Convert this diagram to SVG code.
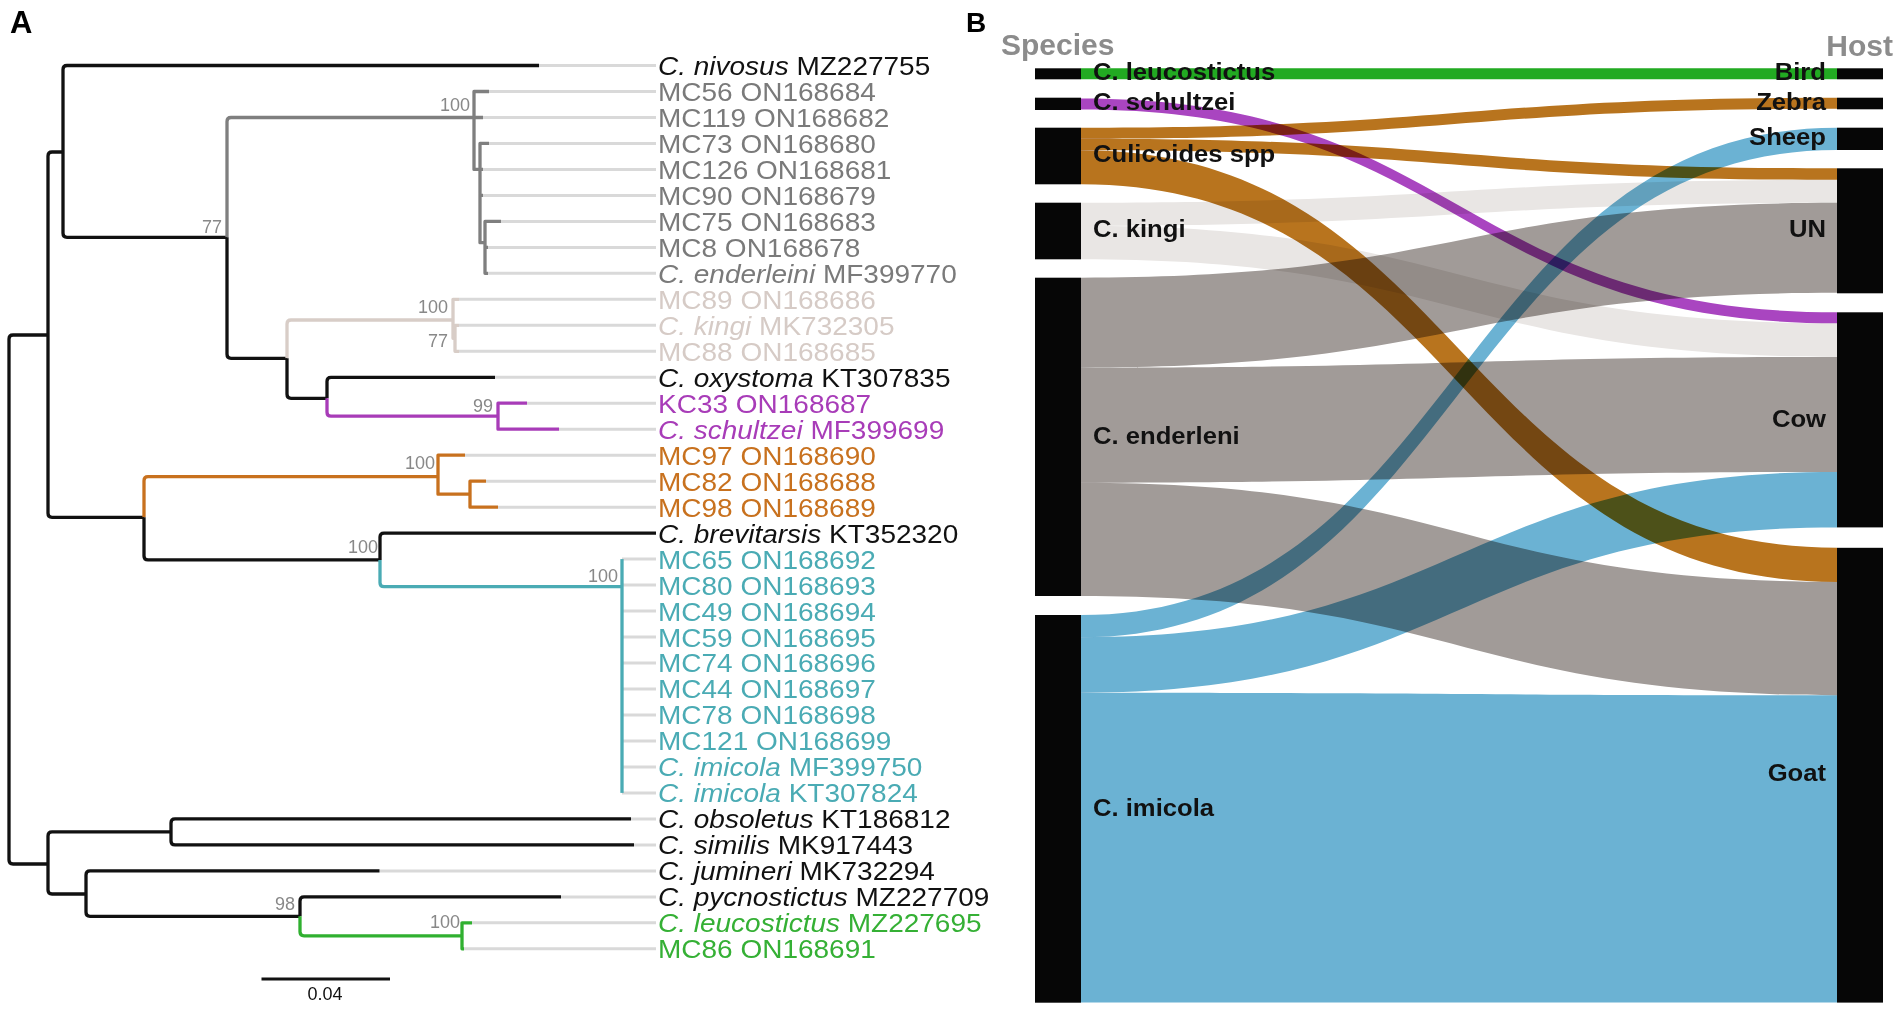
<svg xmlns="http://www.w3.org/2000/svg" width="1902" height="1013" viewBox="0 0 1902 1013">
<style>
text{font-family:"Liberation Sans",Arial,sans-serif}
.pl{font-size:31px;font-weight:bold;fill:#000}
.lf{font-size:25.5px}
.it{font-style:italic}
.bs{font-size:18px;fill:#888;text-anchor:end}
.br{fill:none;stroke-width:3.3;stroke-linejoin:round;stroke-linecap:butt}
.ld{fill:none;stroke:#d9d9d9;stroke-width:3}
.k{stroke:#111}.g{stroke:#7f7f7f}.t{stroke:#d8cdc7}.p{stroke:#a83cb8}.o{stroke:#c8711e}.c{stroke:#4aabb4}.gr{stroke:#30b030}
.fk{fill:#111}.fg{fill:#7a7a7a}.ft{fill:#d6cbc6}.fp{fill:#a83cb8}.fo{fill:#c8711e}.fc{fill:#4aabb4}.fgr{fill:#35b035}
.flow{mix-blend-mode:multiply}
.bar{fill:#060606}
.sl{font-size:23.3px;font-weight:bold;fill:#111}
.hd{font-size:30px;font-weight:bold;fill:#8c8c8c}
</style>
<rect width="1902" height="1013" fill="#fff"/>

<!-- Panel A -->
<text class="pl" x="10" y="33">A</text>

<g id="leaders">
<path class="ld" d="M539,65.5H656M489,91.5H656M483,117.5H656M489,143.4H656M483,169.4H656M483,195.4H656M501,221.4H656M488,247.4H656M488,273.3H656M459,299.3H656M459,325.3H656M459,351.3H656M495,377.3H656M527,403.2H656M559,429.2H656M465,455.2H656M486,481.2H656M498,507.2H656M622,559.1H656M622,585.1H656M622,611.1H656M622,637.1H656M622,663H656M622,689H656M622,715H656M622,741H656M622,767H656M622,792.9H656M631,818.9H656M634,844.9H656M379.5,870.9H656M561,896.9H656M472,922.8H656M464,948.8H656"/>
</g>

<g id="tree-connectors">
<path class="br k" d="M9,600V339Q9,335 13,335H48M9,600V860Q9,864 13,864H48"/>
<path class="br k" d="M48,335V156Q48,152 52,152H63M48,335V513.3Q48,517.3 52,517.3H144"/>
<path class="br k" d="M63,152V69.5Q63,65.5 67,65.5H539M63,152V233.3Q63,237.3 67,237.3H227"/>
<path class="br g" d="M227,237.3V121.5Q227,117.5 231,117.5H474"/>
<path class="br k" d="M227,237.3V354.3Q227,358.3 231,358.3H287"/>
<path class="br g" d="M474,117.5V91.5H489M474,117.5H483M474,117.5V169.4H480"/>
<path class="br g" d="M480,169.4V143.4H489M480,169.4H483M480,169.4V242.7H485M480,195.4H483"/>
<path class="br g" d="M485,242.7V221.4H501M485,242.7V273.3H488M485,247.4H488"/>
<path class="br t" d="M287,358.3V324Q287,320 291,320H453"/>
<path class="br k" d="M287,358.3V394.3Q287,398.3 291,398.3H327"/>
<path class="br t" d="M453,320V299.3H459M453,320V338.3H455"/>
<path class="br t" d="M455,338.3V325.3H459M455,338.3V351.3H459"/>
<path class="br k" d="M327,398.3V381.3Q327,377.3 331,377.3H495"/>
<path class="br p" d="M327,398.3V412.2Q327,416.2 331,416.2H498"/>
<path class="br p" d="M498,416.2V403.2H527M498,416.2V429.2H559"/>
<path class="br o" d="M144,517.3V480.7Q144,476.7 148,476.7H438"/>
<path class="br k" d="M144,517.3V555.9Q144,559.9 148,559.9H380"/>
<path class="br o" d="M438,476.7V455.2H465M438,476.7V494.2H470"/>
<path class="br o" d="M470,494.2V481.2H486M470,494.2V507.2H498"/>
<path class="br k" d="M380,559.9V537.1Q380,533.1 384,533.1H656"/>
<path class="br c" d="M380,559.9V582.7Q380,586.7 384,586.7H622"/>
<path class="br c" d="M622,559.1V792.9"/>
<path class="br k" d="M48,864V835.9Q48,831.9 52,831.9H171M48,864V890Q48,894 52,894H86"/>
<path class="br k" d="M171,831.9V822.9Q171,818.9 175,818.9H631M171,831.9V840.9Q171,844.9 175,844.9H634"/>
<path class="br k" d="M86,894V874.9Q86,870.9 90,870.9H379.5M86,894V912.3Q86,916.3 90,916.3H300"/>
<path class="br k" d="M300,916.3V900.9Q300,896.9 304,896.9H561"/>
<path class="br gr" d="M300,916.3V931.8Q300,935.8 304,935.8H462"/>
<path class="br gr" d="M462,935.8V922.8H472M462,935.8V948.8H464"/>
</g>

<g id="bootstrap">
<text class="bs" x="470" y="111">100</text>
<text class="bs" x="222" y="233">77</text>
<text class="bs" x="448" y="313">100</text>
<text class="bs" x="448" y="346.5">77</text>
<text class="bs" x="493" y="411.5">99</text>
<text class="bs" x="435" y="468.5">100</text>
<text class="bs" x="378" y="553">100</text>
<text class="bs" x="618" y="581.5">100</text>
<text class="bs" x="295" y="910">98</text>
<text class="bs" x="460" y="928">100</text>
</g>

<g id="leaf-labels" class="lf" transform="translate(658 0) scale(1.098 1)">
<g id="leaf-nivosus"><text class="fk" x="0" y="75"><tspan class="it">C. nivosus</tspan> MZ227755</text></g>
<g id="leaf-MC56"><text class="fg" x="0" y="101">MC56 ON168684</text></g>
<g id="leaf-MC119"><text class="fg" x="0" y="127">MC119 ON168682</text></g>
<g id="leaf-MC73"><text class="fg" x="0" y="152.9">MC73 ON168680</text></g>
<g id="leaf-MC126"><text class="fg" x="0" y="178.9">MC126 ON168681</text></g>
<g id="leaf-MC90"><text class="fg" x="0" y="204.9">MC90 ON168679</text></g>
<g id="leaf-MC75"><text class="fg" x="0" y="230.9">MC75 ON168683</text></g>
<g id="leaf-MC8"><text class="fg" x="0" y="256.9">MC8 ON168678</text></g>
<g id="leaf-enderleini"><text class="fg" x="0" y="282.8"><tspan class="it">C. enderleini</tspan> MF399770</text></g>
<g id="leaf-MC89"><text class="ft" x="0" y="308.8">MC89 ON168686</text></g>
<g id="leaf-kingi"><text class="ft" x="0" y="334.8"><tspan class="it">C. kingi</tspan> MK732305</text></g>
<g id="leaf-MC88"><text class="ft" x="0" y="360.8">MC88 ON168685</text></g>
<g id="leaf-oxystoma"><text class="fk" x="0" y="386.8"><tspan class="it">C. oxystoma</tspan> KT307835</text></g>
<g id="leaf-KC33"><text class="fp" x="0" y="412.7">KC33 ON168687</text></g>
<g id="leaf-schultzei"><text class="fp" x="0" y="438.7"><tspan class="it">C. schultzei</tspan> MF399699</text></g>
<g id="leaf-MC97"><text class="fo" x="0" y="464.7">MC97 ON168690</text></g>
<g id="leaf-MC82"><text class="fo" x="0" y="490.7">MC82 ON168688</text></g>
<g id="leaf-MC98"><text class="fo" x="0" y="516.7">MC98 ON168689</text></g>
<g id="leaf-brevitarsis"><text class="fk" x="0" y="542.6"><tspan class="it">C. brevitarsis</tspan> KT352320</text></g>
<g id="leaf-MC65"><text class="fc" x="0" y="568.6">MC65 ON168692</text></g>
<g id="leaf-MC80"><text class="fc" x="0" y="594.6">MC80 ON168693</text></g>
<g id="leaf-MC49"><text class="fc" x="0" y="620.6">MC49 ON168694</text></g>
<g id="leaf-MC59"><text class="fc" x="0" y="646.6">MC59 ON168695</text></g>
<g id="leaf-MC74"><text class="fc" x="0" y="672.5">MC74 ON168696</text></g>
<g id="leaf-MC44"><text class="fc" x="0" y="698.5">MC44 ON168697</text></g>
<g id="leaf-MC78"><text class="fc" x="0" y="724.5">MC78 ON168698</text></g>
<g id="leaf-MC121"><text class="fc" x="0" y="750.5">MC121 ON168699</text></g>
<g id="leaf-imicola1"><text class="fc" x="0" y="776.5"><tspan class="it">C. imicola</tspan> MF399750</text></g>
<g id="leaf-imicola2"><text class="fc" x="0" y="802.4"><tspan class="it">C. imicola</tspan> KT307824</text></g>
<g id="leaf-obsoletus"><text class="fk" x="0" y="828.4"><tspan class="it">C. obsoletus</tspan> KT186812</text></g>
<g id="leaf-similis"><text class="fk" x="0" y="854.4"><tspan class="it">C. similis</tspan> MK917443</text></g>
<g id="leaf-jumineri"><text class="fk" x="0" y="880.4"><tspan class="it">C. jumineri</tspan> MK732294</text></g>
<g id="leaf-pycnostictus"><text class="fk" x="0" y="906.4"><tspan class="it">C. pycnostictus</tspan> MZ227709</text></g>
<g id="leaf-leucostictus"><text class="fgr" x="0" y="932.3"><tspan class="it">C. leucostictus</tspan> MZ227695</text></g>
<g id="leaf-MC86"><text class="fgr" x="0" y="958.3">MC86 ON168691</text></g>
</g>

<g id="scale-bar">
<path d="M261.5,979H390" stroke="#111" stroke-width="3"/>
<text x="325" y="1000" font-size="18" text-anchor="middle" fill="#111">0.04</text>
</g>

<!-- Panel B -->
<text class="pl" x="966" y="32" style="font-size:28px">B</text>
<text class="hd" x="1001" y="55">Species</text>
<text class="hd" x="1893" y="56" text-anchor="end">Host</text>

<g id="flows">
<path class="flow" fill="#22aa22" d="M1081,68.3H1837V79.3H1081Z"/>
<path class="flow" fill="#a945c0" d="M1081,98.5C1459,98.5 1459,312.3 1837,312.3V323.3C1459,323.3 1459,109.5 1081,109.5Z"/>
<path class="flow" fill="#b8741e" d="M1081,127.7C1459,127.7 1459,97.7 1837,97.7V108.7C1459,108.7 1459,138.7 1081,138.7Z"/>
<path class="flow" fill="#b8741e" d="M1081,138.7C1459,138.7 1459,168.3 1837,168.3V179.8C1459,179.8 1459,150.2 1081,150.2Z"/>
<path class="flow" fill="#b8741e" d="M1081,150.2C1459,150.2 1459,547.8 1837,547.8V581.9C1459,581.9 1459,184.3 1081,184.3Z"/>
<path class="flow" fill="#e9e6e4" d="M1081,202.7C1459,202.7 1459,179.8 1837,179.8V202.8C1459,202.8 1459,225.7 1081,225.7Z"/>
<path class="flow" fill="#e9e6e4" d="M1081,225.7C1459,225.7 1459,323.3 1837,323.3V356.9C1459,356.9 1459,259.3 1081,259.3Z"/>
<path class="flow" fill="#a19b98" d="M1081,277.7C1459,277.7 1459,202.8 1837,202.8V292.8C1459,292.8 1459,367.7 1081,367.7Z"/>
<path class="flow" fill="#a19b98" d="M1081,367.7C1459,367.7 1459,356.9 1837,356.9V471.9C1459,471.9 1459,482.7 1081,482.7Z"/>
<path class="flow" fill="#a19b98" d="M1081,482.7C1459,482.7 1459,581.9 1837,581.9V695.2C1459,695.2 1459,596 1081,596Z"/>
<path class="flow" fill="#6bb2d3" d="M1081,615C1459,615 1459,127.7 1837,127.7V150C1459,150 1459,637.3 1081,637.3Z"/>
<path class="flow" fill="#6bb2d3" d="M1081,637.3C1459,637.3 1459,471.9 1837,471.9V527.4C1459,527.4 1459,692.8 1081,692.8Z"/>
<path class="flow" fill="#6bb2d3" d="M1081,692.8C1459,692.8 1459,695.2 1837,695.2V1002.6H1081Z"/>
</g>

<g id="species-nodes">
<g id="sp-leucostictus"><rect class="bar" x="1035" y="68.3" width="46" height="11"/><text class="sl" transform="translate(1093 80) scale(1.1 1)">C. leucostictus</text></g>
<g id="sp-schultzei"><rect class="bar" x="1035" y="97.7" width="46" height="12.3"/><text class="sl" transform="translate(1093 110) scale(1.1 1)">C. schultzei</text></g>
<g id="sp-culicoides"><rect class="bar" x="1035" y="127.7" width="46" height="56.6"/><text class="sl" transform="translate(1093 161.5) scale(1.1 1)">Culicoides spp</text></g>
<g id="sp-kingi"><rect class="bar" x="1035" y="202.7" width="46" height="56.6"/><text class="sl" transform="translate(1093 237) scale(1.1 1)">C. kingi</text></g>
<g id="sp-enderleni"><rect class="bar" x="1035" y="277.7" width="46" height="318.3"/><text class="sl" transform="translate(1093 444) scale(1.1 1)">C. enderleni</text></g>
<g id="sp-imicola"><rect class="bar" x="1035" y="615" width="46" height="387.7"/><text class="sl" transform="translate(1093 815.5) scale(1.1 1)">C. imicola</text></g>
</g>

<g id="host-nodes">
<g id="host-bird"><rect class="bar" x="1837" y="68.3" width="46" height="11"/><text class="sl" text-anchor="end" transform="translate(1826 80) scale(1.1 1)">Bird</text></g>
<g id="host-zebra"><rect class="bar" x="1837" y="97.7" width="46" height="11.6"/><text class="sl" text-anchor="end" transform="translate(1826 110) scale(1.1 1)">Zebra</text></g>
<g id="host-sheep"><rect class="bar" x="1837" y="127.7" width="46" height="22.3"/><text class="sl" text-anchor="end" transform="translate(1826 145) scale(1.1 1)">Sheep</text></g>
<g id="host-un"><rect class="bar" x="1837" y="168.3" width="46" height="125"/><text class="sl" text-anchor="end" transform="translate(1826 237) scale(1.1 1)">UN</text></g>
<g id="host-cow"><rect class="bar" x="1837" y="312.3" width="46" height="215.1"/><text class="sl" text-anchor="end" transform="translate(1826 427) scale(1.1 1)">Cow</text></g>
<g id="host-goat"><rect class="bar" x="1837" y="547.8" width="46" height="454.8"/><text class="sl" text-anchor="end" transform="translate(1826 781) scale(1.1 1)">Goat</text></g>
</g>
</svg>
